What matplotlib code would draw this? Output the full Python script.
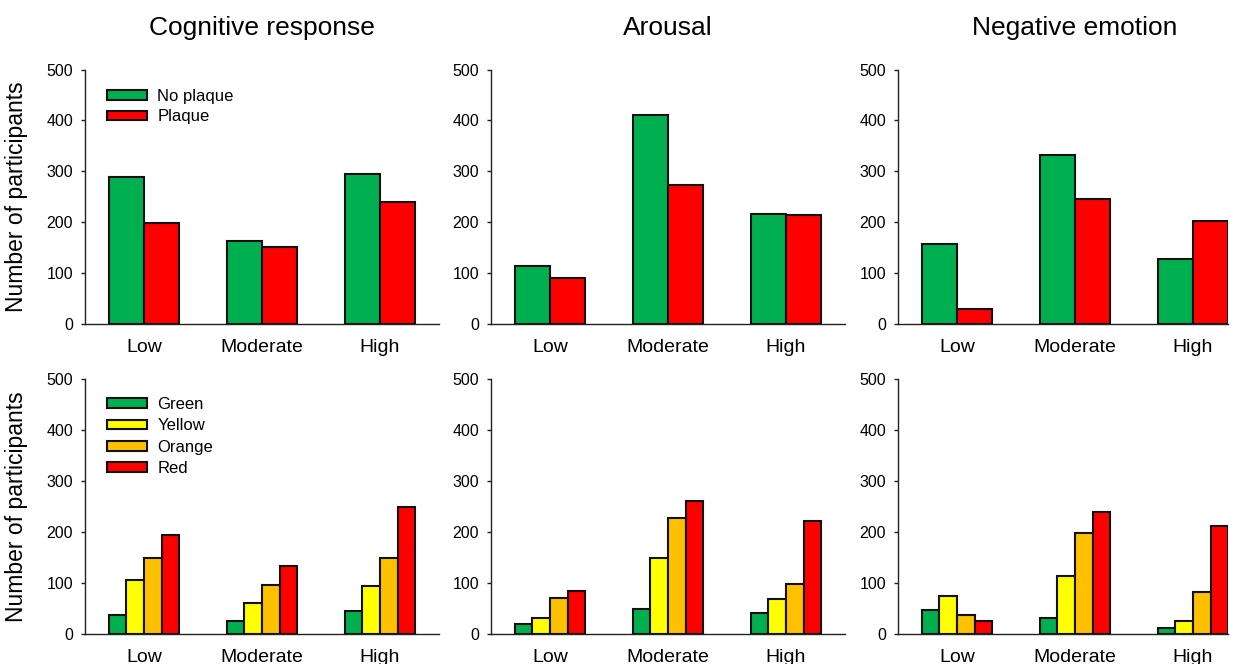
import matplotlib
matplotlib.use('Agg')
import matplotlib.pyplot as plt
import numpy as np

plt.rcParams['font.family'] = ['Liberation Sans', 'DejaVu Sans']

levels = ['Low', 'Moderate', 'High']
panels = ['Cognitive response', 'Arousal', 'Negative emotion']

# top row: plaque vs no plaque
no_plaque = [[289, 164, 295],
             [113, 411, 216],
             [157, 332, 127]]
plaque = [[198, 151, 240],
          [91, 274, 214],
          [30, 246, 203]]

# bottom row: plaque colour
green = [[38, 26, 46],
         [19, 50, 42],
         [48, 32, 12]]
yellow = [[106, 61, 94],
          [31, 150, 69],
          [74, 114, 25]]
orange = [[150, 97, 150],
          [70, 228, 99],
          [38, 198, 82]]
red = [[194, 134, 249],
       [84, 262, 221],
       [25, 239, 212]]

c_green = '#00b050'
c_red = '#ff0000'
c_yellow = '#ffff00'
c_orange = '#ffc000'

W, H = 1244, 664
fig = plt.figure(figsize=(W/100, H/100), dpi=100)

lefts = [85, 491, 898]
unit = 118.0
xmax = [2.5, 2.5, 2.3]
rows = [(69.5, 324.0), (379.3, 634.0)]

def make_ax(col, row):
    top, bot = rows[row]
    width = (xmax[col] + 0.5) * unit
    ax = fig.add_axes([lefts[col]/W, 1 - bot/H, width/W, (bot - top)/H])
    ax.set_xlim(-0.5, xmax[col])
    ax.set_ylim(0, 500)
    ax.set_yticks([0, 100, 200, 300, 400, 500])
    ax.set_xticks(range(len(levels)))
    ax.set_xticklabels(levels, fontsize=14)
    ax.tick_params(axis='x', length=0, pad=10.5)
    ax.tick_params(axis='y', length=3, width=1, pad=5.5, labelsize=11.5, color='#222222')
    for s in ['top', 'right']:
        ax.spines[s].set_visible(False)
    for s in ['left', 'bottom']:
        ax.spines[s].set_linewidth(1.0)
        ax.spines[s].set_color('#222222')
    return ax

x = np.arange(len(levels))
bar_kw = dict(edgecolor='#111111', linewidth=1.5, zorder=3)
leg_kw = dict(loc='upper left', frameon=False, fontsize=12, handlelength=2.4,
              handleheight=0.5, handletextpad=0.6, borderpad=0, borderaxespad=0)

for col in range(3):
    # plaque / no plaque
    ax = make_ax(col, 0)
    bw = 0.3
    ax.bar(x - bw/2, no_plaque[col], bw, color=c_green, label='No plaque', **bar_kw)
    ax.bar(x + bw/2, plaque[col], bw, color=c_red, label='Plaque', **bar_kw)
    if col == 0:
        ax.legend(bbox_to_anchor=(0.0635, 0.923), labelspacing=0.32, **leg_kw)
    center = (lefts[col] + 1.5 * unit) / W
    fig.text(center, 1 - 28/H, panels[col], ha='center', va='center', fontsize=19)

    # by plaque colour
    ax = make_ax(col, 1)
    bw = 0.15
    series = [(green, c_green, 'Green'), (yellow, c_yellow, 'Yellow'),
              (orange, c_orange, 'Orange'), (red, c_red, 'Red')]
    for i, (vals, c, lab) in enumerate(series):
        ax.bar(x + (i - 1.5) * bw, vals[col], bw, color=c, label=lab, **bar_kw)
    if col == 0:
        ax.legend(bbox_to_anchor=(0.0635, 0.93), labelspacing=0.38, **leg_kw)

for top, bot in rows:
    fig.text(17/W, 1 - (top + bot)/2/H, 'Number of participants', rotation=90,
             ha='center', va='center', fontsize=16.5)

fig.savefig('out.png', dpi=100)
